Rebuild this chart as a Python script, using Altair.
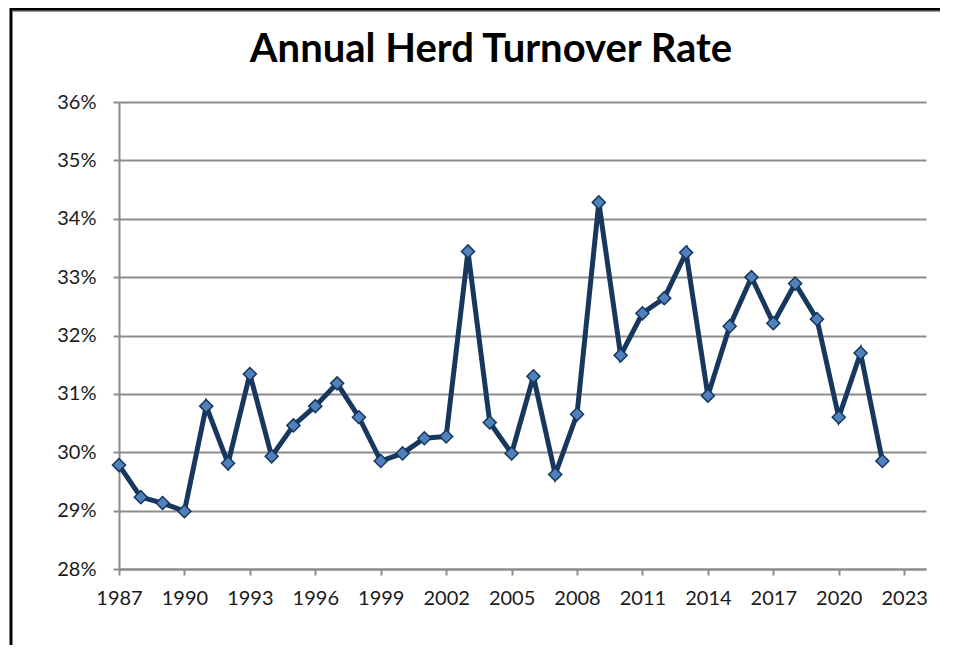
import altair as alt
import pandas as pd

years = list(range(1987, 2023))
rates = [29.78, 29.23, 29.13, 28.99, 30.79, 29.81, 31.34, 29.93, 30.46, 30.79,
         31.18, 30.60, 29.85, 29.98, 30.24, 30.27, 33.44, 30.51, 29.98, 31.30,
         29.62, 30.65, 34.28, 31.66, 32.38, 32.64, 33.42, 30.97, 32.16, 33.00,
         32.21, 32.89, 32.28, 30.60, 31.70, 29.85]
x_ticks = list(range(1987, 2024, 3))
y_ticks = [0.28, 0.29, 0.30, 0.31, 0.32, 0.33, 0.34, 0.35, 0.36]

df = pd.DataFrame({"year": years, "rate": [r / 100 for r in rates]})

W, H = 807, 467
FONT = "Lato"

x = alt.X("year:Q", scale=alt.Scale(domain=[1987, 2024], nice=False, zero=False),
          axis=alt.Axis(values=x_ticks, format="d", title=None, grid=False,
                        domainColor="#8c8c8c", domainWidth=2, tickColor="#8c8c8c",
                        tickWidth=2, tickSize=6, labelPadding=13, labelFontSize=20,
                        labelFont=FONT, labelColor="#1a1a1a", labelFlush=False))
y = alt.Y("rate:Q", scale=alt.Scale(domain=[0.28, 0.36], nice=False, zero=False),
          axis=alt.Axis(values=y_ticks, format=".0%", title=None, grid=True,
                        gridColor="#8c8c8c", gridWidth=2, domainColor="#8c8c8c",
                        domainWidth=2, tickColor="#8c8c8c", tickWidth=2, tickSize=6,
                        labelPadding=17, labelFontSize=20, labelFont=FONT,
                        labelColor="#1a1a1a"))

base = alt.Chart(df)
line = base.mark_line(color="#17375E", strokeWidth=5, strokeJoin="miter").encode(x=x, y=y)
pts = base.mark_point(shape="diamond", filled=True, size=170, fill="#4F81BD",
                      stroke="#17375E", strokeWidth=1.5, opacity=1).encode(x=x, y=y)

frame_src = alt.Chart(pd.DataFrame({"a": [0]}))
top_shadow = frame_src.mark_rule(color="#9a9a9a", strokeWidth=2).encode(
    x=alt.value(-106), x2=alt.value(W + 14), y=alt.value(-91))
top = frame_src.mark_rule(color="#000000", strokeWidth=3).encode(
    x=alt.value(-109), x2=alt.value(W + 14), y=alt.value(-93))
left = frame_src.mark_rule(color="#000000", strokeWidth=3).encode(
    x=alt.value(-108), y=alt.value(-94), y2=alt.value(H + 76))
title = frame_src.mark_text(fontSize=40, fontWeight="bold", font=FONT, color="#000000",
                            align="center", baseline="alphabetic").encode(
    x=alt.value(372), y=alt.value(-40), text=alt.value("Annual Herd Turnover Rate"))

chart = alt.layer(top_shadow, top, left, title, line, pts).properties(
    width=W, height=H,
    autosize=alt.AutoSizeParams(type="none"),
    padding={"left": 111, "top": 94, "right": 18, "bottom": 80},
).configure_view(stroke=None)

chart.save("out.html", embed_options={"renderer": "svg", "actions": False})
